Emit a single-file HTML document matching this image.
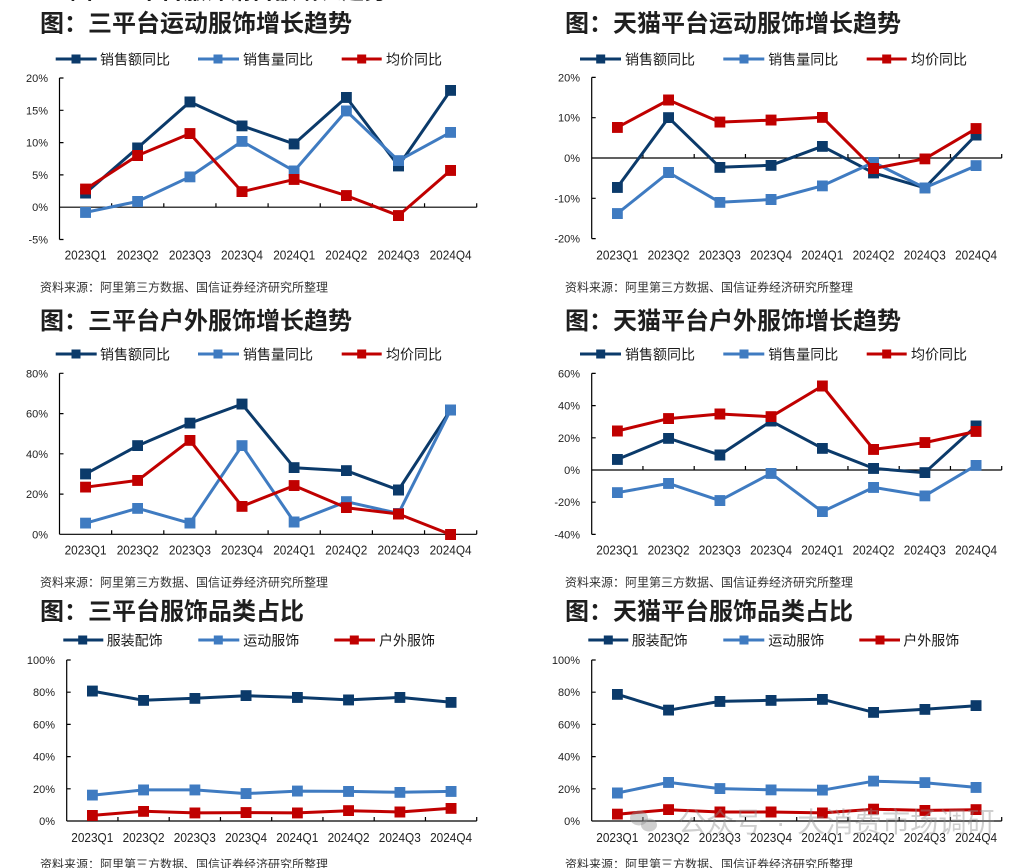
<!DOCTYPE html>
<html>
<head>
<meta charset="utf-8">
<style>
html,body{margin:0;padding:0;background:#fff;}
svg{display:block;}
.t{font-family:"Liberation Sans","Noto Sans CJK SC",sans-serif;font-weight:bold;font-size:24px;fill:#1e1e1e;}
.lg{font-family:"Liberation Sans","Noto Sans CJK SC",sans-serif;font-size:14px;fill:#1a1a1a;}
.src{font-family:"Liberation Sans","Noto Sans CJK SC",sans-serif;font-size:12px;fill:#333;}
.yl{font-family:"Liberation Sans",sans-serif;font-size:11px;fill:#222;text-anchor:end;}
.xl{font-family:"Liberation Sans",sans-serif;font-size:13px;fill:#222;text-anchor:middle;}
.ax{stroke:#000;stroke-width:1.2;fill:none;}
.n{stroke:#0b3a6a;stroke-width:3;fill:none;stroke-linejoin:round;marker-start:url(#mN);marker-mid:url(#mN);marker-end:url(#mN);}
.b{stroke:#3f7bc1;stroke-width:3;fill:none;stroke-linejoin:round;marker-start:url(#mB);marker-mid:url(#mB);marker-end:url(#mB);}
.r{stroke:#c00000;stroke-width:3;fill:none;stroke-linejoin:round;marker-start:url(#mR);marker-mid:url(#mR);marker-end:url(#mR);}
.ln{stroke-width:3;}
.wm{font-family:"Liberation Sans","Noto Sans CJK SC",sans-serif;font-size:28px;fill:rgba(140,140,140,0.42);}
</style>
</head>
<body>
<svg width="1029" height="868" viewBox="0 0 1029 868" xmlns="http://www.w3.org/2000/svg">
<defs>
<marker id="mN" markerWidth="11" markerHeight="11" refX="5.5" refY="5.5" markerUnits="userSpaceOnUse"><rect width="11" height="11" fill="#0b3a6a"/></marker>
<marker id="mB" markerWidth="11" markerHeight="11" refX="5.5" refY="5.5" markerUnits="userSpaceOnUse"><rect width="11" height="11" fill="#3f7bc1"/></marker>
<marker id="mR" markerWidth="11" markerHeight="11" refX="5.5" refY="5.5" markerUnits="userSpaceOnUse"><rect width="11" height="11" fill="#c00000"/></marker>
</defs>

<!-- top remnant -->
<text class="t" x="70" y="-1.5" textLength="317" lengthAdjust="spacingAndGlyphs" fill="#444">图：三平台服饰销售额增长趋势</text>

<!-- ============ Chart A ============ -->
<text class="t" x="40" y="31.5">图：三平台运动服饰增长趋势</text>
<g>
<line x1="55.7" y1="59" x2="96.7" y2="59" stroke="#0b3a6a" class="ln"/><rect x="71.5" y="54.5" width="9" height="9" fill="#0b3a6a"/>
<text class="lg" x="100" y="64.3">销售额同比</text>
<line x1="198" y1="59" x2="239" y2="59" stroke="#3f7bc1" class="ln"/><rect x="213.5" y="54.5" width="9" height="9" fill="#3f7bc1"/>
<text class="lg" x="243" y="64.3">销售量同比</text>
<line x1="341.7" y1="59" x2="381.7" y2="59" stroke="#c00000" class="ln"/><rect x="357.2" y="54.5" width="9" height="9" fill="#c00000"/>
<text class="lg" x="386" y="64.3">均价同比</text>
</g>
<path class="ax" d="M59.5,78V239.5 M59.5,78h4 M59.5,110.3h4 M59.5,142.6h4 M59.5,174.9h4 M59.5,239.5h4 M59.5,207.2H476.7 M111.65,207.2v-4 M163.8,207.2v-4 M215.95,207.2v-4 M268.1,207.2v-4 M320.25,207.2v-4 M372.4,207.2v-4 M424.55,207.2v-4 M476.7,207.2v-4"/>
<text class="yl" x="48" y="82">20%</text>
<text class="yl" x="48" y="114.3">15%</text>
<text class="yl" x="48" y="146.6">10%</text>
<text class="yl" x="48" y="178.9">5%</text>
<text class="yl" x="48" y="211.2">0%</text>
<text class="yl" x="48" y="243.5">-5%</text>
<g>
<text class="xl" x="85.6" y="259.5" textLength="42" lengthAdjust="spacingAndGlyphs">2023Q1</text>
<text class="xl" x="137.7" y="259.5" textLength="42" lengthAdjust="spacingAndGlyphs">2023Q2</text>
<text class="xl" x="189.9" y="259.5" textLength="42" lengthAdjust="spacingAndGlyphs">2023Q3</text>
<text class="xl" x="242.0" y="259.5" textLength="42" lengthAdjust="spacingAndGlyphs">2023Q4</text>
<text class="xl" x="294.2" y="259.5" textLength="42" lengthAdjust="spacingAndGlyphs">2024Q1</text>
<text class="xl" x="346.3" y="259.5" textLength="42" lengthAdjust="spacingAndGlyphs">2024Q2</text>
<text class="xl" x="398.5" y="259.5" textLength="42" lengthAdjust="spacingAndGlyphs">2024Q3</text>
<text class="xl" x="450.6" y="259.5" textLength="42" lengthAdjust="spacingAndGlyphs">2024Q4</text>
</g>
<polyline class="n" points="85.6,193.0 137.7,147.8 189.9,101.9 242.0,125.8 294.2,143.9 346.3,97.4 398.5,165.9 450.6,90.3"/>
<polyline class="b" points="85.6,212.4 137.7,201.4 189.9,176.8 242.0,141.3 294.2,171.0 346.3,110.9 398.5,160.7 450.6,132.3"/>
<polyline class="r" points="85.6,189.1 137.7,155.5 189.9,133.6 242.0,191.7 294.2,179.4 346.3,195.6 398.5,215.6 450.6,170.4"/>
<text class="src" x="40" y="291.6">资料来源：阿里第三方数据、国信证券经济研究所整理</text>

<!-- ============ Chart B ============ -->
<text class="t" x="565" y="31.5">图：天猫平台运动服饰增长趋势</text>
<g>
<line x1="580" y1="59" x2="621" y2="59" stroke="#0b3a6a" class="ln"/><rect x="596.2" y="54.5" width="9" height="9" fill="#0b3a6a"/>
<text class="lg" x="625" y="64.3">销售额同比</text>
<line x1="723.3" y1="59" x2="764.3" y2="59" stroke="#3f7bc1" class="ln"/><rect x="739.5" y="54.5" width="9" height="9" fill="#3f7bc1"/>
<text class="lg" x="768.3" y="64.3">销售量同比</text>
<line x1="866.7" y1="59" x2="906.7" y2="59" stroke="#c00000" class="ln"/><rect x="882.2" y="54.5" width="9" height="9" fill="#c00000"/>
<text class="lg" x="911" y="64.3">均价同比</text>
</g>
<path class="ax" d="M591.7,77.4V238.6 M591.7,77.4h4 M591.7,117.7h4 M591.7,198.3h4 M591.7,238.6h4 M591.7,158H1001.7 M642.95,158v-4 M694.2,158v-4 M745.45,158v-4 M796.7,158v-4 M847.95,158v-4 M899.2,158v-4 M950.45,158v-4 M1001.7,158v-4"/>
<text class="yl" x="580" y="81.4">20%</text>
<text class="yl" x="580" y="121.7">10%</text>
<text class="yl" x="580" y="162">0%</text>
<text class="yl" x="580" y="202.3">-10%</text>
<text class="yl" x="580" y="242.6">-20%</text>
<g>
<text class="xl" x="617.3" y="259.5" textLength="42" lengthAdjust="spacingAndGlyphs">2023Q1</text>
<text class="xl" x="668.6" y="259.5" textLength="42" lengthAdjust="spacingAndGlyphs">2023Q2</text>
<text class="xl" x="719.8" y="259.5" textLength="42" lengthAdjust="spacingAndGlyphs">2023Q3</text>
<text class="xl" x="771.1" y="259.5" textLength="42" lengthAdjust="spacingAndGlyphs">2023Q4</text>
<text class="xl" x="822.3" y="259.5" textLength="42" lengthAdjust="spacingAndGlyphs">2024Q1</text>
<text class="xl" x="873.6" y="259.5" textLength="42" lengthAdjust="spacingAndGlyphs">2024Q2</text>
<text class="xl" x="924.8" y="259.5" textLength="42" lengthAdjust="spacingAndGlyphs">2024Q3</text>
<text class="xl" x="976.1" y="259.5" textLength="42" lengthAdjust="spacingAndGlyphs">2024Q4</text>
</g>
<polyline class="n" points="617.3,187.4 668.6,117.7 719.8,167.3 771.1,165.3 822.3,146.3 873.6,172.9 924.8,187.8 976.1,135.0"/>
<polyline class="b" points="617.3,213.6 668.6,172.5 719.8,202.3 771.1,199.5 822.3,185.8 873.6,162.4 924.8,187.8 976.1,165.7"/>
<polyline class="r" points="617.3,127.4 668.6,100.0 719.8,122.1 771.1,120.1 822.3,117.3 873.6,168.5 924.8,158.8 976.1,128.6"/>
<text class="src" x="565" y="291.6">资料来源：阿里第三方数据、国信证券经济研究所整理</text>

<!-- ============ Chart C ============ -->
<text class="t" x="40" y="329">图：三平台户外服饰增长趋势</text>
<g>
<line x1="55.7" y1="354" x2="96.7" y2="354" stroke="#0b3a6a" class="ln"/><rect x="71.5" y="349.5" width="9" height="9" fill="#0b3a6a"/>
<text class="lg" x="100" y="359.3">销售额同比</text>
<line x1="198" y1="354" x2="239" y2="354" stroke="#3f7bc1" class="ln"/><rect x="213.5" y="349.5" width="9" height="9" fill="#3f7bc1"/>
<text class="lg" x="243" y="359.3">销售量同比</text>
<line x1="341.7" y1="354" x2="381.7" y2="354" stroke="#c00000" class="ln"/><rect x="357.2" y="349.5" width="9" height="9" fill="#c00000"/>
<text class="lg" x="386" y="359.3">均价同比</text>
</g>
<path class="ax" d="M59.5,373.3V534.3 M59.5,373.3h4 M59.5,413.6h4 M59.5,453.8h4 M59.5,494.1h4 M59.5,534.3H476.7 M111.65,534.3v-4 M163.8,534.3v-4 M215.95,534.3v-4 M268.1,534.3v-4 M320.25,534.3v-4 M372.4,534.3v-4 M424.55,534.3v-4 M476.7,534.3v-4"/>
<text class="yl" x="48" y="377.3">80%</text>
<text class="yl" x="48" y="417.6">60%</text>
<text class="yl" x="48" y="457.8">40%</text>
<text class="yl" x="48" y="498.1">20%</text>
<text class="yl" x="48" y="538.3">0%</text>
<g>
<text class="xl" x="85.6" y="554.5" textLength="42" lengthAdjust="spacingAndGlyphs">2023Q1</text>
<text class="xl" x="137.7" y="554.5" textLength="42" lengthAdjust="spacingAndGlyphs">2023Q2</text>
<text class="xl" x="189.9" y="554.5" textLength="42" lengthAdjust="spacingAndGlyphs">2023Q3</text>
<text class="xl" x="242.0" y="554.5" textLength="42" lengthAdjust="spacingAndGlyphs">2023Q4</text>
<text class="xl" x="294.2" y="554.5" textLength="42" lengthAdjust="spacingAndGlyphs">2024Q1</text>
<text class="xl" x="346.3" y="554.5" textLength="42" lengthAdjust="spacingAndGlyphs">2024Q2</text>
<text class="xl" x="398.5" y="554.5" textLength="42" lengthAdjust="spacingAndGlyphs">2024Q3</text>
<text class="xl" x="450.6" y="554.5" textLength="42" lengthAdjust="spacingAndGlyphs">2024Q4</text>
</g>
<polyline class="n" points="85.6,473.9 137.7,445.7 189.9,423.2 242.0,404.1 294.2,467.7 346.3,470.7 398.5,490.0 450.6,409.9"/>
<polyline class="b" points="85.6,523.2 137.7,508.3 189.9,523.2 242.0,445.7 294.2,522.0 346.3,501.7 398.5,513.4 450.6,409.9"/>
<polyline class="r" points="85.6,487.2 137.7,480.4 189.9,440.3 242.0,506.3 294.2,485.6 346.3,507.7 398.5,514.0 450.6,534.5"/>
<text class="src" x="40" y="586.3">资料来源：阿里第三方数据、国信证券经济研究所整理</text>

<!-- ============ Chart D ============ -->
<text class="t" x="565" y="329">图：天猫平台户外服饰增长趋势</text>
<g>
<line x1="580" y1="354" x2="621" y2="354" stroke="#0b3a6a" class="ln"/><rect x="596.2" y="349.5" width="9" height="9" fill="#0b3a6a"/>
<text class="lg" x="625" y="359.3">销售额同比</text>
<line x1="723.3" y1="354" x2="764.3" y2="354" stroke="#3f7bc1" class="ln"/><rect x="739.5" y="349.5" width="9" height="9" fill="#3f7bc1"/>
<text class="lg" x="768.3" y="359.3">销售量同比</text>
<line x1="866.7" y1="354" x2="906.7" y2="354" stroke="#c00000" class="ln"/><rect x="882.2" y="349.5" width="9" height="9" fill="#c00000"/>
<text class="lg" x="911" y="359.3">均价同比</text>
</g>
<path class="ax" d="M591.7,373.4V534.4 M591.7,373.4h4 M591.7,405.6h4 M591.7,437.8h4 M591.7,502.2h4 M591.7,534.4h4 M591.7,470H1001.7 M642.95,470v-4 M694.2,470v-4 M745.45,470v-4 M796.7,470v-4 M847.95,470v-4 M899.2,470v-4 M950.45,470v-4 M1001.7,470v-4"/>
<text class="yl" x="580" y="377.4">60%</text>
<text class="yl" x="580" y="409.6">40%</text>
<text class="yl" x="580" y="441.8">20%</text>
<text class="yl" x="580" y="474">0%</text>
<text class="yl" x="580" y="506.2">-20%</text>
<text class="yl" x="580" y="538.4">-40%</text>
<g>
<text class="xl" x="617.3" y="554.5" textLength="42" lengthAdjust="spacingAndGlyphs">2023Q1</text>
<text class="xl" x="668.6" y="554.5" textLength="42" lengthAdjust="spacingAndGlyphs">2023Q2</text>
<text class="xl" x="719.8" y="554.5" textLength="42" lengthAdjust="spacingAndGlyphs">2023Q3</text>
<text class="xl" x="771.1" y="554.5" textLength="42" lengthAdjust="spacingAndGlyphs">2023Q4</text>
<text class="xl" x="822.3" y="554.5" textLength="42" lengthAdjust="spacingAndGlyphs">2024Q1</text>
<text class="xl" x="873.6" y="554.5" textLength="42" lengthAdjust="spacingAndGlyphs">2024Q2</text>
<text class="xl" x="924.8" y="554.5" textLength="42" lengthAdjust="spacingAndGlyphs">2024Q3</text>
<text class="xl" x="976.1" y="554.5" textLength="42" lengthAdjust="spacingAndGlyphs">2024Q4</text>
</g>
<polyline class="n" points="617.3,459.4 668.6,438.3 719.8,455.0 771.1,421.1 822.3,448.3 873.6,468.4 924.8,472.7 976.1,426.0"/>
<polyline class="b" points="617.3,492.7 668.6,483.4 719.8,500.6 771.1,473.4 822.3,511.7 873.6,487.4 924.8,495.8 976.1,465.3"/>
<polyline class="r" points="617.3,431.0 668.6,418.6 719.8,414.0 771.1,416.7 822.3,386.0 873.6,449.4 924.8,442.6 976.1,431.4"/>
<text class="src" x="565" y="586.3">资料来源：阿里第三方数据、国信证券经济研究所整理</text>

<!-- ============ Chart E ============ -->
<text class="t" x="40" y="619.5">图：三平台服饰品类占比</text>
<g>
<line x1="63.3" y1="640" x2="103.3" y2="640" stroke="#0b3a6a" class="ln"/><rect x="78.2" y="635.5" width="9" height="9" fill="#0b3a6a"/>
<text class="lg" x="106.7" y="645.3">服装配饰</text>
<line x1="198.3" y1="640" x2="239.3" y2="640" stroke="#3f7bc1" class="ln"/><rect x="213.8" y="635.5" width="9" height="9" fill="#3f7bc1"/>
<text class="lg" x="243.3" y="645.3">运动服饰</text>
<line x1="334.3" y1="640" x2="375" y2="640" stroke="#c00000" class="ln"/><rect x="349.8" y="635.5" width="9" height="9" fill="#c00000"/>
<text class="lg" x="379" y="645.3">户外服饰</text>
</g>
<path class="ax" d="M66.7,660V821 M66.7,660h4 M66.7,692.2h4 M66.7,724.4h4 M66.7,756.6h4 M66.7,788.8h4 M66.7,821H476.7 M117.95,821v-4 M169.2,821v-4 M220.45,821v-4 M271.7,821v-4 M322.95,821v-4 M374.2,821v-4 M425.45,821v-4 M476.7,821v-4"/>
<text class="yl" x="55" y="664">100%</text>
<text class="yl" x="55" y="696.2">80%</text>
<text class="yl" x="55" y="728.4">60%</text>
<text class="yl" x="55" y="760.6">40%</text>
<text class="yl" x="55" y="792.8">20%</text>
<text class="yl" x="55" y="825">0%</text>
<g>
<text class="xl" x="92.3" y="842" textLength="42" lengthAdjust="spacingAndGlyphs">2023Q1</text>
<text class="xl" x="143.6" y="842" textLength="42" lengthAdjust="spacingAndGlyphs">2023Q2</text>
<text class="xl" x="194.8" y="842" textLength="42" lengthAdjust="spacingAndGlyphs">2023Q3</text>
<text class="xl" x="246.1" y="842" textLength="42" lengthAdjust="spacingAndGlyphs">2023Q4</text>
<text class="xl" x="297.3" y="842" textLength="42" lengthAdjust="spacingAndGlyphs">2024Q1</text>
<text class="xl" x="348.6" y="842" textLength="42" lengthAdjust="spacingAndGlyphs">2024Q2</text>
<text class="xl" x="399.8" y="842" textLength="42" lengthAdjust="spacingAndGlyphs">2024Q3</text>
<text class="xl" x="451.1" y="842" textLength="42" lengthAdjust="spacingAndGlyphs">2024Q4</text>
</g>
<polyline class="n" points="92.3,691.1 143.6,700.3 194.8,698.3 246.1,695.7 297.3,697.4 348.6,699.9 399.8,697.4 451.1,702.3"/>
<polyline class="b" points="92.3,795.2 143.6,789.9 194.8,789.9 246.1,793.6 297.3,791.1 348.6,791.4 399.8,792.3 451.1,791.4"/>
<polyline class="r" points="92.3,815.4 143.6,811.3 194.8,812.9 246.1,812.6 297.3,812.9 348.6,810.7 399.8,812.0 451.1,808.3"/>
<text class="src" x="40" y="868.3">资料来源：阿里第三方数据、国信证券经济研究所整理</text>

<!-- ============ Chart F ============ -->
<text class="t" x="565" y="619.5">图：天猫平台服饰品类占比</text>
<g>
<line x1="588.3" y1="640" x2="628.3" y2="640" stroke="#0b3a6a" class="ln"/><rect x="603.8" y="635.5" width="9" height="9" fill="#0b3a6a"/>
<text class="lg" x="631.7" y="645.3">服装配饰</text>
<line x1="723.3" y1="640" x2="764.3" y2="640" stroke="#3f7bc1" class="ln"/><rect x="739.5" y="635.5" width="9" height="9" fill="#3f7bc1"/>
<text class="lg" x="768.3" y="645.3">运动服饰</text>
<line x1="859.3" y1="640" x2="900" y2="640" stroke="#c00000" class="ln"/><rect x="875.5" y="635.5" width="9" height="9" fill="#c00000"/>
<text class="lg" x="903.3" y="645.3">户外服饰</text>
</g>
<path class="ax" d="M591.7,660V821 M591.7,660h4 M591.7,692.2h4 M591.7,724.4h4 M591.7,756.6h4 M591.7,788.8h4 M591.7,821H1001.7 M642.95,821v-4 M694.2,821v-4 M745.45,821v-4 M796.7,821v-4 M847.95,821v-4 M899.2,821v-4 M950.45,821v-4 M1001.7,821v-4"/>
<text class="yl" x="580" y="664">100%</text>
<text class="yl" x="580" y="696.2">80%</text>
<text class="yl" x="580" y="728.4">60%</text>
<text class="yl" x="580" y="760.6">40%</text>
<text class="yl" x="580" y="792.8">20%</text>
<text class="yl" x="580" y="825">0%</text>
<g>
<text class="xl" x="617.3" y="842" textLength="42" lengthAdjust="spacingAndGlyphs">2023Q1</text>
<text class="xl" x="668.6" y="842" textLength="42" lengthAdjust="spacingAndGlyphs">2023Q2</text>
<text class="xl" x="719.8" y="842" textLength="42" lengthAdjust="spacingAndGlyphs">2023Q3</text>
<text class="xl" x="771.1" y="842" textLength="42" lengthAdjust="spacingAndGlyphs">2023Q4</text>
<text class="xl" x="822.3" y="842" textLength="42" lengthAdjust="spacingAndGlyphs">2024Q1</text>
<text class="xl" x="873.6" y="842" textLength="42" lengthAdjust="spacingAndGlyphs">2024Q2</text>
<text class="xl" x="924.8" y="842" textLength="42" lengthAdjust="spacingAndGlyphs">2024Q3</text>
<text class="xl" x="976.1" y="842" textLength="42" lengthAdjust="spacingAndGlyphs">2024Q4</text>
</g>
<polyline class="n" points="617.3,694.3 668.6,710.2 719.8,701.4 771.1,700.3 822.3,699.3 873.6,712.3 924.8,709.3 976.1,705.7"/>
<polyline class="b" points="617.3,793.0 668.6,782.4 719.8,788.6 771.1,789.8 822.3,790.2 873.6,781.2 924.8,782.7 976.1,787.4"/>
<polyline class="r" points="617.3,814.2 668.6,809.7 719.8,812.0 771.1,812.0 822.3,812.9 873.6,809.2 924.8,810.4 976.1,809.7"/>
<text class="src" x="565" y="868.3">资料来源：阿里第三方数据、国信证券经济研究所整理</text>

<!-- watermark -->
<g fill="rgba(140,140,140,0.42)">
<ellipse cx="639" cy="818" rx="9" ry="7.5"/>
<ellipse cx="649" cy="825" rx="8" ry="6.5"/>
</g>
<text class="wm" x="678" y="832" textLength="84" lengthAdjust="spacingAndGlyphs">公众号</text>
<text class="wm" x="776" y="832">·</text>
<text class="wm" x="797" y="832" textLength="198" lengthAdjust="spacingAndGlyphs">大消费市场调研</text>
</svg>
</body>
</html>
